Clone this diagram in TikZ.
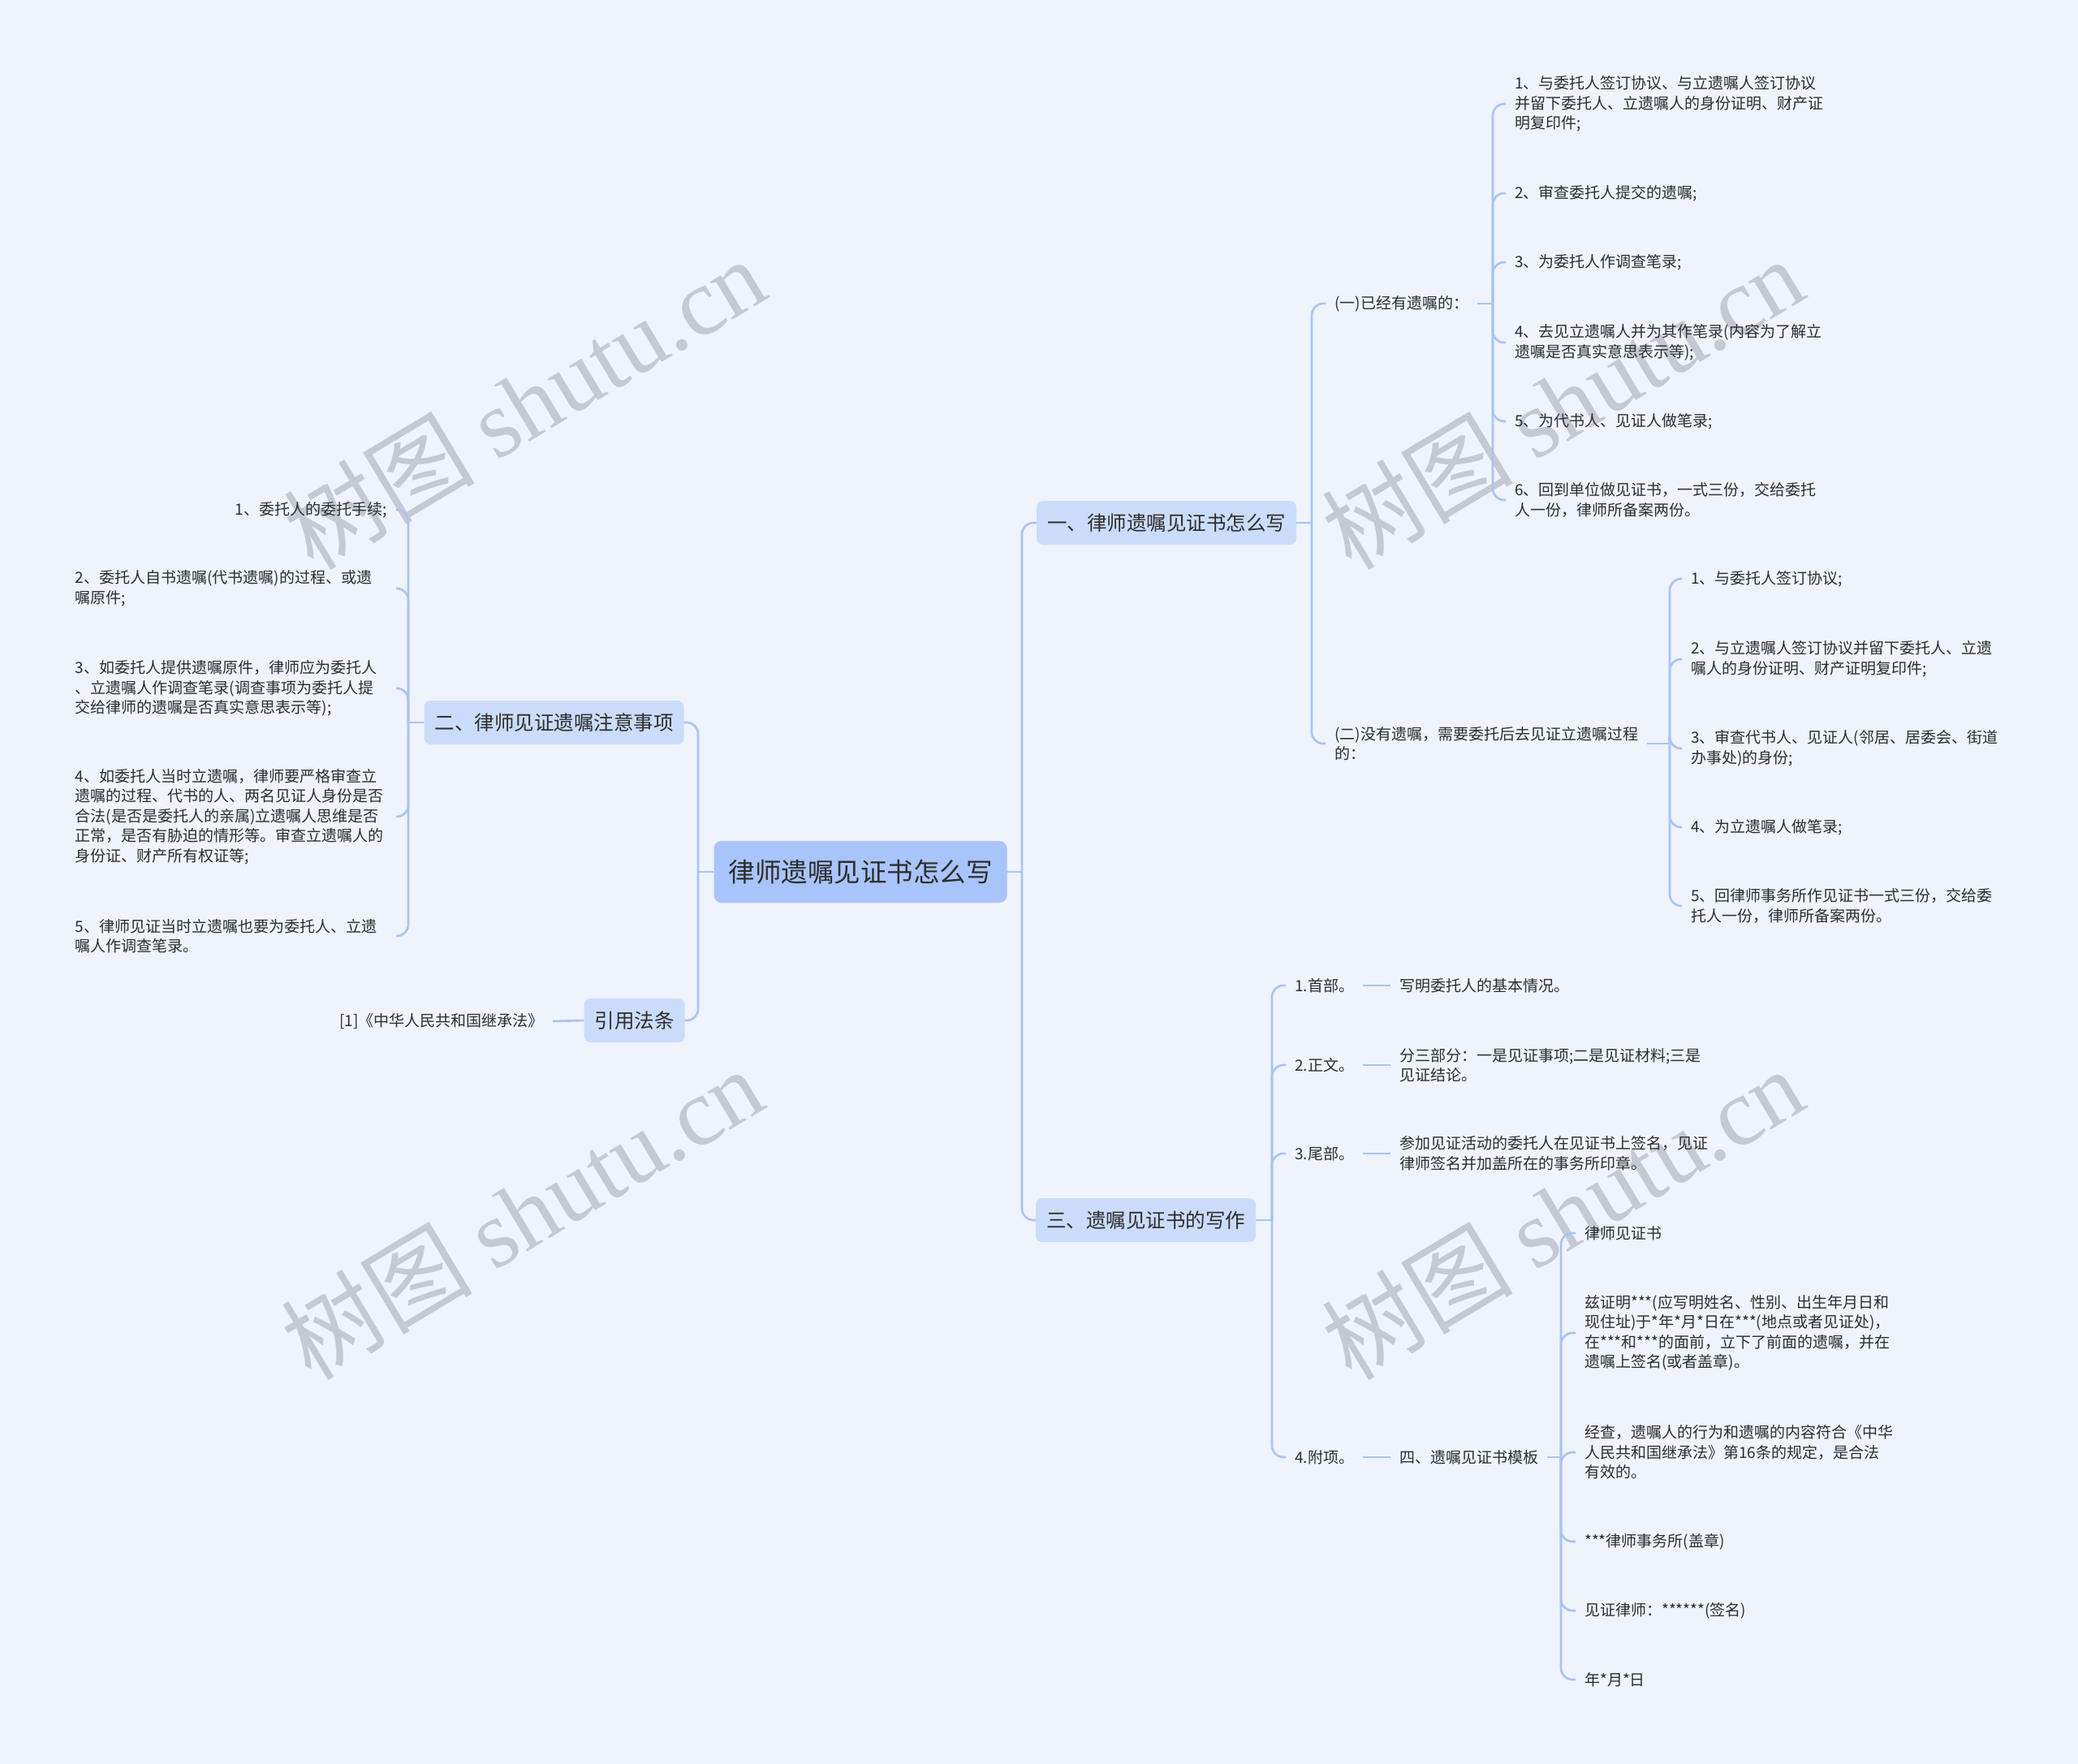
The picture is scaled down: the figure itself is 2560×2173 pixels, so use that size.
\documentclass[tikz,border=0pt]{standalone}
\usepackage{fontspec}
\setmainfont{Noto Sans CJK SC}
\newfontfamily\wmfont{Liberation Serif}
\newfontfamily\wmcjk{Noto Sans CJK SC}
\definecolor{bg}{RGB}{238,243,252}
\definecolor{rootfill}{RGB}{168,196,250}
\definecolor{boxfill}{RGB}{203,220,250}
\definecolor{ln}{RGB}{170,195,240}
\definecolor{txt}{RGB}{45,45,45}
\definecolor{wmgray}{RGB}{196,201,211}
\tikzset{
  sm/.style={font=\fontsize{19}{24.5}\selectfont, text=txt, inner xsep=11pt, inner ysep=3pt, align=left},
  lvl/.style={fill=boxfill, rounded corners=8pt, font=\fontsize{24.5}{28}\selectfont, text=txt, inner xsep=13pt, minimum height=54pt},
  rootbox/.style={fill=rootfill, rounded corners=9pt, font=\fontsize{32.5}{36}\selectfont, text=txt, inner xsep=18pt, minimum height=76pt},
  conn/.style={draw=ln, line width=2.6pt, rounded corners=14pt},
  wm/.style={text=wmgray, rotate=31, font=\fontsize{118}{120}\selectfont, inner sep=0pt}
}
\begin{document}
\begin{tikzpicture}[x=1pt,y=-1pt]
\useasboundingbox (0,0) rectangle (2560,2173);
\fill[bg] (0,0) rectangle (2560,2173);

% watermarks
\node[wm] (wm1) at (646,496) {{\wmcjk 树图} {\wmfont shutu.cn}};
\node[wm] (wm2) at (1925,496) {{\wmcjk 树图} {\wmfont shutu.cn}};
\node[wm] (wm3) at (643,1494) {{\wmcjk 树图} {\wmfont shutu.cn}};
\node[wm] (wm4) at (1925,1494) {{\wmcjk 树图} {\wmfont shutu.cn}};

% main nodes
\node[rootbox] (root) at (1060,1074) {律师遗嘱见证书怎么写};
\node[lvl] (b1) at (1437,644) {一、律师遗嘱见证书怎么写};
\node[lvl] (b3) at (1411.5,1503) {三、遗嘱见证书的写作};
\node[lvl] (l2) at (682.5,890) {二、律师见证遗嘱注意事项};
\node[lvl] (l4) at (781.5,1257) {引用法条};

% junctions
\coordinate (jR) at (1259,1074);
\coordinate (jL) at (860,1074);
\coordinate (jB1) at (1616,644);
\coordinate (jY) at (1839,374);
\coordinate (jN) at (2057,916);
\coordinate (jB3) at (1567,1503);
\coordinate (jT) at (1923,1795);
\coordinate (jL2) at (503,890);

% branch 1
\node[sm, anchor=west] (y0) at (1633,374) {(一)已经有遗嘱的：};
\node[sm, anchor=west] (n0) at (1633,916) {(二)没有遗嘱，需要委托后去见证立遗嘱过程\\的：};

\node[sm, anchor=west] (y1) at (1855,128) {1、与委托人签订协议、与立遗嘱人签订协议\\并留下委托人、立遗嘱人的身份证明、财产证\\明复印件;};
\node[sm, anchor=west] (y2) at (1855,238) {2、审查委托人提交的遗嘱;};
\node[sm, anchor=west] (y3) at (1855,323) {3、为委托人作调查笔录;};
\node[sm, anchor=west] (y4) at (1855,422) {4、去见立遗嘱人并为其作笔录(内容为了解立\\遗嘱是否真实意思表示等);};
\node[sm, anchor=west] (y5) at (1855,519) {5、为代书人、见证人做笔录;};
\node[sm, anchor=west] (y6) at (1855,616) {6、回到单位做见证书，一式三份，交给委托\\人一份，律师所备案两份。};

\node[sm, anchor=west] (n1) at (2072,713) {1、与委托人签订协议;};
\node[sm, anchor=west] (n2) at (2072,812) {2、与立遗嘱人签订协议并留下委托人、立遗\\嘱人的身份证明、财产证明复印件;};
\node[sm, anchor=west] (n3) at (2072,922) {3、审查代书人、见证人(邻居、居委会、街道\\办事处)的身份;};
\node[sm, anchor=west] (n4) at (2072,1019) {4、为立遗嘱人做笔录;};
\node[sm, anchor=west] (n5) at (2072,1116) {5、回律师事务所作见证书一式三份，交给委\\托人一份，律师所备案两份。};

% branch 3
\node[sm, anchor=west] (s1) at (1584,1214) {1.首部。};
\node[sm, anchor=west] (s2) at (1584,1312) {2.正文。};
\node[sm, anchor=west] (s3) at (1584,1421) {3.尾部。};
\node[sm, anchor=west] (s4) at (1584,1795) {4.附项。};

\node[sm, anchor=west] (t1) at (1713,1214) {写明委托人的基本情况。};
\node[sm, anchor=west] (t2) at (1713,1312) {分三部分：一是见证事项;二是见证材料;三是\\见证结论。};
\node[sm, anchor=west] (t3) at (1713,1421) {参加见证活动的委托人在见证书上签名，见证\\律师签名并加盖所在的事务所印章。};
\node[sm, anchor=west] (t4) at (1713,1795) {四、遗嘱见证书模板};

\node[sm, anchor=west] (c1) at (1941,1519) {律师见证书};
\node[sm, anchor=west] (c2) at (1941,1642) {兹证明***(应写明姓名、性别、出生年月日和\\现住址)于*年*月*日在***(地点或者见证处)，\\在***和***的面前，立下了前面的遗嘱，并在\\遗嘱上签名(或者盖章)。};
\node[sm, anchor=west] (c3) at (1941,1789) {经查，遗嘱人的行为和遗嘱的内容符合《中华\\人民共和国继承法》第16条的规定，是合法\\有效的。};
\node[sm, anchor=west] (c4) at (1941,1899) {***律师事务所(盖章)};
\node[sm, anchor=west] (c5) at (1941,1984) {见证律师：******(签名)};
\node[sm, anchor=west] (c6) at (1941,2069) {年*月*日};

% left branch 2
\node[sm, anchor=east] (k1) at (488,628) {1、委托人的委托手续;};
\node[sm, anchor=east, text width=384pt] (k2) at (488,725) {2、委托人自书遗嘱(代书遗嘱)的过程、或遗\\嘱原件;};
\node[sm, anchor=east, text width=384pt] (k3) at (488,848) {3、如委托人提供遗嘱原件，律师应为委托人\\、立遗嘱人作调查笔录(调查事项为委托人提\\交给律师的遗嘱是否真实意思表示等);};
\node[sm, anchor=east, text width=384pt] (k4) at (488,1006) {4、如委托人当时立遗嘱，律师要严格审查立\\遗嘱的过程、代书的人、两名见证人身份是否\\合法(是否是委托人的亲属)立遗嘱人思维是否\\正常，是否有胁迫的情形等。审查立遗嘱人的\\身份证、财产所有权证等;};
\node[sm, anchor=east, text width=384pt] (k5) at (488,1153) {5、律师见证当时立遗嘱也要为委托人、立遗\\嘱人作调查笔录。};

\node[sm, anchor=east] (cite) at (681,1258) {[1]《中华人民共和国继承法》};

% connectors
\draw[conn] (root.east) -- (jR);
\draw[conn] (jR) |- (b1.west);
\draw[conn] (jR) |- (b3.west);
\draw[conn] (root.west) -- (jL);
\draw[conn] (jL) |- (l2.east);
\draw[conn] (jL) |- (l4.east);

\draw[conn] (b1.east) -- (jB1);
\draw[conn] (jB1) |- (y0.west);
\draw[conn] (jB1) |- (n0.west);

\draw[conn] (y0.east) -- (jY);
\foreach \n in {y1,y2,y3,y4,y5,y6} \draw[conn] (jY) |- (\n.west);

\draw[conn] (n0.east) -- (jN);
\foreach \n in {n1,n2,n3,n4,n5} \draw[conn] (jN) |- (\n.west);

\draw[conn] (b3.east) -- (jB3);
\foreach \n in {s1,s2,s3,s4} \draw[conn] (jB3) |- (\n.west);
\draw[conn] (s1.east) -- (s1.east -| t1.west);
\draw[conn] (s2.east) -- (s2.east -| t2.west);
\draw[conn] (s3.east) -- (s3.east -| t3.west);
\draw[conn] (s4.east) -- (s4.east -| t4.west);

\draw[conn] (t4.east) -- (jT);
\foreach \n in {c1,c2,c3,c4,c5,c6} \draw[conn] (jT) |- (\n.west);

\draw[conn] (l2.west) -- (jL2);
\foreach \n in {k1,k2,k3,k4,k5} \draw[conn] (jL2) |- (\n.east);

\draw[conn] (l4.west) -- (cite.east);
\end{tikzpicture}
\end{document}
